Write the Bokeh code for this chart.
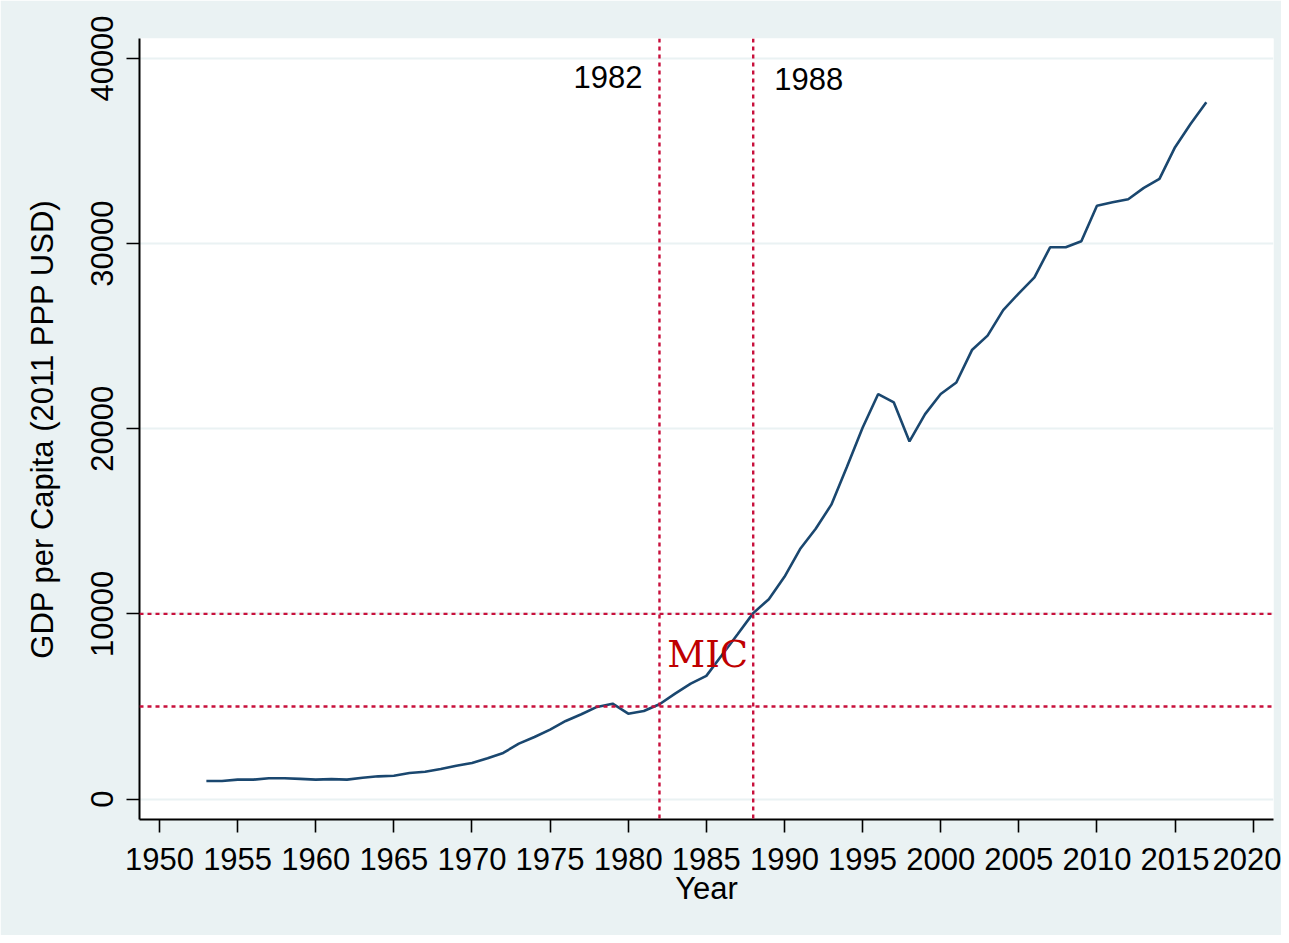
from bokeh.plotting import figure
from bokeh.models import Range1d, FixedTicker, Span, Label
from bokeh.embed import file_html
from bokeh.resources import INLINE

# ---- data ----
years = list(range(1953, 2018))
gdp_pc = [970, 975, 1045, 1045, 1120, 1120, 1085, 1045, 1075, 1045,
          1150, 1225, 1260, 1405, 1475, 1620, 1800, 1945, 2200, 2490,
          2990, 3350, 3745, 4215, 4580, 4975, 5150, 4610, 4755, 5120,
          5690, 6230, 6650, 7780, 8900, 10040, 10790, 12000, 13500, 14600,
          15900, 17950, 20050, 21875, 21420, 19315, 20790, 21875, 22500, 24250,
          25030, 26410, 27315, 28180, 29800, 29800, 30125, 32050, 32230, 32400,
          33010, 33500, 35210, 36470, 37640]
x_ticks = list(range(1950, 2021, 5))
y_ticks = [0, 10000, 20000, 30000, 40000]
event_years = [1982, 1988]
income_thresholds = [5000, 10000]
band_label = "MIC"

BG = "#EAF2F3"
RED = "#C8103C"
FONT = "Liberation Sans"

p = figure(width=1281, height=935, output_backend="svg", toolbar_location=None,
           x_range=Range1d(1948.72, 2021.3), y_range=Range1d(-1107, 41080),
           min_border_left=139, min_border_right=8, min_border_top=38,
           min_border_bottom=116)
p.border_fill_color = BG
p.background_fill_color = "white"
p.outline_line_color = None

p.line(years, gdp_pc, line_color="#1A476F", line_width=2.6)

for yv in income_thresholds:
    p.add_layout(Span(location=yv, dimension="width", line_color=RED,
                      line_width=2.4, line_dash="4 4"))
for xv in event_years:
    p.add_layout(Span(location=xv, dimension="height", line_color=RED,
                      line_width=2.4, line_dash="4 4"))

p.add_layout(Label(x=event_years[0], y=39000, x_offset=-17, text=str(event_years[0]),
                   text_align="right", text_baseline="alphabetic",
                   text_font=FONT, text_font_size="31px", text_color="black"))
p.add_layout(Label(x=event_years[1], y=38880, x_offset=21, text=str(event_years[1]),
                   text_align="left", text_baseline="alphabetic",
                   text_font=FONT, text_font_size="31px", text_color="black"))
p.add_layout(Label(x=1982.5, y=7800, text=band_label, text_align="left",
                   text_baseline="alphabetic", text_font="DejaVu Serif",
                   text_font_size="37px", text_color="#BF0000"))

# axes
for ax in (p.xaxis[0], p.yaxis[0]):
    ax.axis_line_color = "black"
    ax.axis_line_width = 2
    ax.major_tick_line_color = "black"
    ax.major_tick_line_width = 1.6
    ax.major_tick_out = 13
    ax.major_tick_in = 0
    ax.minor_tick_line_color = None
    ax.major_label_text_font = FONT
    ax.major_label_text_font_size = "31px"
    ax.major_label_text_color = "black"
    ax.axis_label_text_font = FONT
    ax.axis_label_text_font_size = "31px"
    ax.axis_label_text_font_style = "normal"
    ax.axis_label_text_color = "black"

p.xaxis.ticker = FixedTicker(ticks=x_ticks)
p.yaxis.ticker = FixedTicker(ticks=y_ticks)
p.xaxis.axis_label = "Year"
p.yaxis.axis_label = "GDP per Capita (2011 PPP USD)"
p.xaxis.major_label_standoff = 15
p.xaxis.axis_label_standoff = -2
p.yaxis.major_label_orientation = "vertical"
p.yaxis.major_label_standoff = 13
p.yaxis.axis_label_standoff = 29

p.xgrid.grid_line_color = None
p.ygrid.grid_line_color = BG
p.ygrid.grid_line_width = 2

open("out.html", "w").write(file_html(p, INLINE))
